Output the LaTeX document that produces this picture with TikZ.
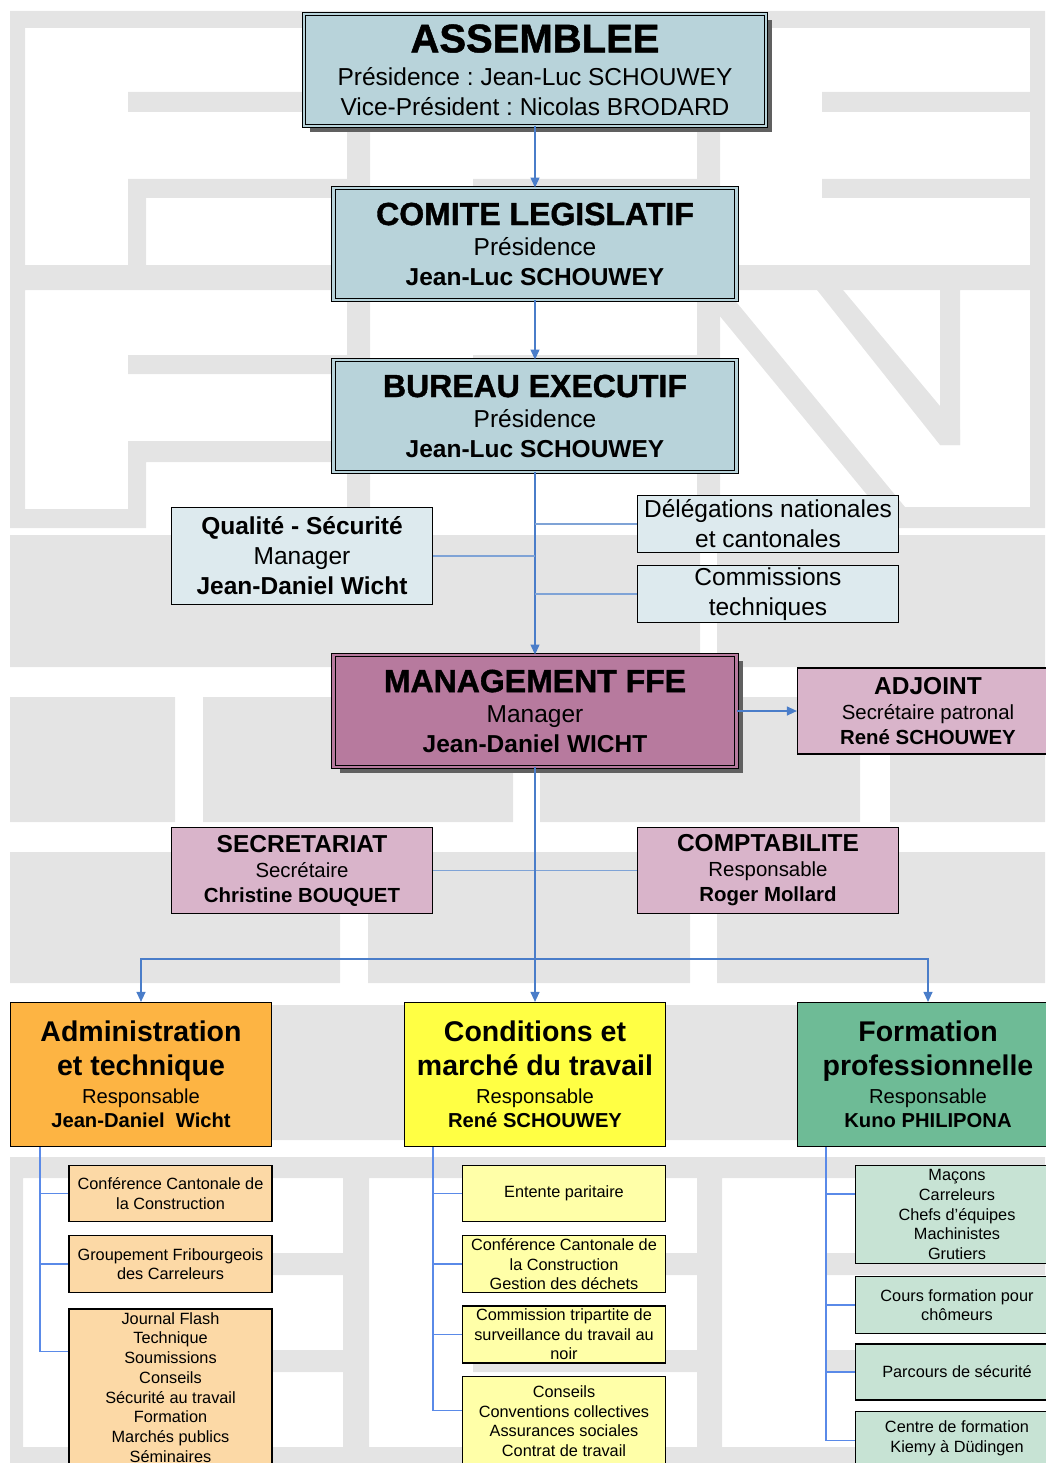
\documentclass[tikz,border=0pt]{standalone}
\usepackage{fontspec}
\setmainfont{Liberation Sans}
\newfontfamily\heavyfont{Liberation Sans Bold}[FakeBold=1.2]
\usetikzlibrary{positioning, arrows.meta, shadows}

\definecolor{wmgray}{HTML}{E4E4E4}
\definecolor{topblue}{HTML}{B8D3DA}
\definecolor{paleblue}{HTML}{DDEAEE}
\definecolor{mauve}{HTML}{B77A9E}
\definecolor{rosefill}{HTML}{D9B4CA}
\definecolor{orangebox}{HTML}{FDB443}
\definecolor{peach}{HTML}{FCD9A6}
\definecolor{yellowbox}{HTML}{FFFF44}
\definecolor{paleyellow}{HTML}{FFFFA8}
\definecolor{greenbox}{HTML}{6EBB96}
\definecolor{palegreen}{HTML}{C7E3D4}
\definecolor{linkblue}{HTML}{4A7DC9}
\definecolor{sideblue}{HTML}{7FA3D6}
\definecolor{subblue}{HTML}{5A8AE8}
\definecolor{shadowgray}{HTML}{606060}

\newcommand{\boxtitle}[2]{{\fontsize{#1}{#1}\selectfont\bfseries #2}}
\newcommand{\heavytitle}[2]{{\fontsize{#1}{#1}\selectfont\heavyfont #2}}

\tikzset{
  link/.style={draw=linkblue, line width=1.2pt},
  sidelink/.style={draw=sideblue, line width=1.8pt},
  sublink/.style={draw=subblue, line width=1.5pt},
  tip/.style={-{Triangle[length=10pt,width=9pt]}},
  orgbox/.style={draw=black, line width=1.2pt, inner sep=0pt, align=center,
    font=\fontsize{24.5}{30}\selectfont},
  headbox/.style={orgbox, fill=#1, double=#1, line width=0.9pt, double distance=2.4pt,
    minimum height=112pt},
  headbox/.default=topblue,
  boxshadow/.style={drop shadow={shadow xshift=6pt, shadow yshift=-6pt, fill=shadowgray, opacity=1}},
  sidebox/.style={orgbox, fill=paleblue, minimum width=261pt},
  rosebox/.style={orgbox, fill=rosefill, minimum width=261pt, minimum height=86pt,
    font=\fontsize{20.4}{25}\selectfont},
  colbox/.style={orgbox, fill=#1, minimum width=261pt, minimum height=144pt,
    font=\fontsize{20.2}{24}\selectfont},
  subbox/.style={orgbox, fill=#1, minimum width=203pt,
    font=\fontsize{16.3}{19.7}\selectfont}
}

\begin{document}
\frenchspacing
\setlength{\lineskiplimit}{-50pt}
\begin{tikzpicture}[x=1pt, y=-1pt]
\useasboundingbox (0,0) rectangle (1045,1463);

\fill[wmgray] (10,11) rectangle (1045,28) (10,11) rectangle (25,528) (1030,11) rectangle (1045,528)
  (10,265) rectangle (1045,290) (128,92) rectangle (347,112) (822,92) rectangle (1030,112)
  (128,179) rectangle (347,198) (128,179) rectangle (146,290) (822,179) rectangle (1030,198)
  (473,179) rectangle (697,198) (473,355) rectangle (697,374)
  (347,28) rectangle (370,528) (697,28) rectangle (720,528)
  (128,355) rectangle (347,374) (128,441) rectangle (347,462) (128,441) rectangle (146,528)
  (10,509) rectangle (146,528) (887,507) rectangle (1045,528) (940,290) rectangle (960,445);
\fill[wmgray] (817,290) -- (843,290) -- (960,430) -- (960,445) -- (940,445) -- cycle;
\fill[wmgray] (700,292) -- (728,292) -- (905,507) -- (877,507) -- cycle;
\fill[wmgray] (10,535) rectangle (700,667) (717,535) rectangle (1045,667)
  (10,697) rectangle (175,822) (203,697) rectangle (513,822) (540,697) rectangle (860,822)
  (890,697) rectangle (1045,822)
  (10,852) rectangle (340,983) (368,852) rectangle (690,983) (717,852) rectangle (1045,983)
  (10,1005) rectangle (1045,1140);
\fill[wmgray] (10,1157) rectangle (1045,1178) (10,1157) rectangle (23,1463) (10,1447) rectangle (1045,1463)
  (343,1178) rectangle (369,1447) (697,1178) rectangle (722,1447)
  (272,1253) rectangle (343,1275) (272,1350) rectangle (343,1372)
  (665,1253) rectangle (697,1275) (473,1350) rectangle (697,1372)
  (825,1253) rectangle (1045,1275) (825,1350) rectangle (1045,1372);

\node[headbox, boxshadow, minimum width=462pt] (assem) at (535,70)
  {\heavytitle{40}{ASSEMBLEE}\\[3pt]Présidence : Jean-Luc SCHOUWEY\\Vice-Président : Nicolas BRODARD};
\node[headbox, minimum width=403pt] (comite) at (535,244)
  {\heavytitle{32}{COMITE LEGISLATIF}\\Présidence\\\textbf{Jean-Luc SCHOUWEY}};
\node[headbox, minimum width=403pt] (bureau) at (535,416)
  {\heavytitle{32}{BUREAU EXECUTIF}\\Présidence\\\textbf{Jean-Luc SCHOUWEY}};

\node[sidebox, minimum height=97pt] (qualite) at (302,556)
  {\textbf{Qualité - Sécurité}\\Manager\\\textbf{Jean-Daniel Wicht}};
\node[sidebox, minimum height=57pt] (deleg) at (768,524) {Délégations nationales\\et cantonales};
\node[sidebox, minimum height=57pt] (comm) at (768,594) {Commissions\\techniques};

\node[headbox=mauve, boxshadow, minimum width=403pt] (mgmt) at (535,711)
  {\heavytitle{32}{MANAGEMENT FFE}\\Manager\\\textbf{Jean-Daniel WICHT}};
\node[rosebox] (adjoint) at (928,711)
  {\boxtitle{24.5}{ADJOINT}\\Secrétaire patronal\\\textbf{René SCHOUWEY}};
\node[rosebox] (secr) at (302,870.5)
  {\boxtitle{24.5}{SECRETARIAT}\\Secrétaire\\\textbf{Christine BOUQUET}};
\node[rosebox] (compta) at (768,870.5)
  {\boxtitle{24.5}{COMPTABILITE}\\Responsable\\\textbf{Roger Mollard}};

\node[colbox=orangebox] (admin) at (141,1074.5)
  {\boxtitle{28.5}{Administration}\\[10pt]\boxtitle{28.5}{et technique}\\[4.5pt]Responsable\\\textbf{Jean-Daniel\ \ Wicht}};
\node[colbox=yellowbox] (cond) at (535,1074.5)
  {\boxtitle{28.5}{Conditions et}\\[10pt]\boxtitle{28.5}{marché du travail}\\[4.5pt]Responsable\\\textbf{René SCHOUWEY}};
\node[colbox=greenbox] (form) at (928,1074.5)
  {\boxtitle{28.5}{Formation}\\[10pt]\boxtitle{28.5}{professionnelle}\\[4.5pt]Responsable\\\textbf{Kuno PHILIPONA}};

\node[subbox=peach, minimum height=56pt] (a1) at (170.5,1193.5) {Conférence Cantonale de\\la Construction};
\node[subbox=peach, minimum height=57pt, below=13pt of a1] (a2) {Groupement Fribourgeois\\des Carreleurs};
\node[subbox=peach, minimum height=157pt, below=15pt of a2] (a3)
  {Journal Flash\\Technique\\Soumissions\\Conseils\\Sécurité au travail\\Formation\\Marchés publics\\Séminaires};

\node[subbox=paleyellow, minimum height=56pt] (c1) at (564,1193.5) {Entente paritaire};
\node[subbox=paleyellow, minimum height=57pt, below=13pt of c1] (c2)
  {Conférence Cantonale de\\la Construction\\Gestion des déchets};
\node[subbox=paleyellow, minimum height=57pt, below=12pt of c2] (c3)
  {Commission tripartite de\\surveillance du travail au\\noir};
\node[subbox=paleyellow, minimum height=90pt, below=12pt of c3] (c4)
  {Conseils\\Conventions collectives\\Assurances sociales\\Contrat de travail};

\node[subbox=palegreen, minimum height=98pt] (f1) at (957,1214.5)
  {Maçons\\Carreleurs\\Chefs d’équipes\\Machinistes\\Grutiers};
\node[subbox=palegreen, minimum height=57pt, below=12pt of f1] (f2) {Cours formation pour\\chômeurs};
\node[subbox=palegreen, minimum height=56pt, below=9pt of f2] (f3) {Parcours de sécurité};
\node[subbox=palegreen, minimum height=55pt, below=10pt of f3] (f4) {Centre de formation\\Kiemy à Düdingen};

\draw[link, tip] (assem) -- (comite);
\draw[link, tip] (comite) -- (bureau);
\draw[link, tip] (bureau) -- (mgmt);
\draw[sidelink] (qualite) -- (qualite -| bureau);
\draw[sidelink] (deleg) -- (deleg -| bureau);
\draw[sidelink] (comm) -- (comm -| bureau);
\draw[link, tip] (mgmt) -- (adjoint);
\draw[sidelink] (secr) -- (compta);
\draw[link, tip] (mgmt) -- (cond);

\coordinate (fork) at (535,959);
\draw[link, tip] (fork) -| (admin);
\draw[link, tip] (fork) -| (form);

\coordinate (admtrunk) at ([xshift=30pt]admin.south west);
\coordinate (condtrunk) at ([xshift=29pt]cond.south west);
\coordinate (formtrunk) at ([xshift=29pt]form.south west);
\coordinate (a3in) at ([yshift=-43pt]a3.north west);
\coordinate (c4in) at ([yshift=-35pt]c4.north west);
\coordinate (f1in) at ([yshift=-29pt]f1.north west);
\coordinate (f4in) at ([yshift=-30pt]f4.north west);

\draw[sublink] (admtrunk) |- (a3in);
\draw[sublink] (a1 -| admtrunk) -- (a1);
\draw[sublink] (a2 -| admtrunk) -- (a2);
\draw[sublink] (condtrunk) |- (c4in);
\draw[sublink] (c1 -| condtrunk) -- (c1);
\draw[sublink] (c2 -| condtrunk) -- (c2);
\draw[sublink] (c3 -| condtrunk) -- (c3);
\draw[sublink] (formtrunk) |- (f4in);
\draw[sublink] (formtrunk |- f1in) -- (f1in);
\draw[sublink] (f2 -| formtrunk) -- (f2);
\draw[sublink] (f3 -| formtrunk) -- (f3);

\end{tikzpicture}
\end{document}
